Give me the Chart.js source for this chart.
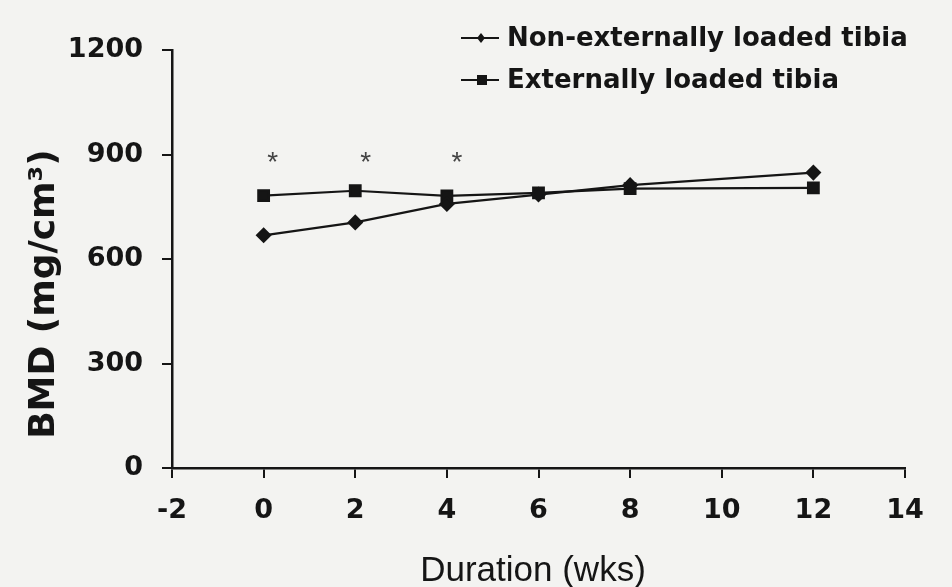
<!DOCTYPE html>
<html>
<head>
<meta charset="utf-8">
<script src="https://cdn.jsdelivr.net/npm/chart.js@4.4.0/dist/chart.umd.min.js"></script>
<style>
  html, body { margin: 0; padding: 0; background: #f3f3f1; }
  #wrap { width: 952px; height: 587px; }
</style>
</head>
<body>
<div id="wrap"><canvas id="chart" width="952" height="587"></canvas></div>
<script>
// data
const weeks = [0, 2, 4, 6, 8, 12];
const nonLoaded = [668, 705, 758, 785, 812, 848];
const loaded = [782, 796, 781, 790, 802, 804];
const starWeeks = [0.2, 2.23, 4.22];
const starLevel = 893;
const xTicks = [-2, 0, 2, 4, 6, 8, 10, 12, 14];
const yTicks = [0, 300, 600, 900, 1200];
const xTitle = "Duration (wks)";
const yTitle = "BMD (mg/cm³)";

const SANS = "'Liberation Sans', Arial, sans-serif";
const WIDE = "'DejaVu Sans', Verdana, sans-serif";
const INK = "#151515";

const toPts = (xs, ys) => xs.map((x, i) => ({ x, y: ys[i] }));

// background fill
const bgPlugin = {
  id: "bg",
  beforeDraw(chart) {
    const { ctx } = chart;
    ctx.save();
    ctx.fillStyle = "#f3f3f1";
    ctx.fillRect(0, 0, chart.width, chart.height);
    ctx.restore();
  },
};

// axis titles, significance marks and legend drawn by hand
const notesPlugin = {
  id: "notes",
  afterDraw(chart) {
    const { ctx, scales } = chart;
    ctx.save();

    // asterisks
    ctx.fillStyle = "#444";
    ctx.font = "28px " + SANS;
    ctx.textAlign = "center";
    ctx.textBaseline = "alphabetic";
    const m = ctx.measureText("*");
    const mid = (m.actualBoundingBoxAscent - m.actualBoundingBoxDescent) / 2;
    starWeeks.forEach((w) => {
      ctx.fillText("*", scales.x.getPixelForValue(w), scales.y.getPixelForValue(starLevel) + mid);
    });

    // x title
    ctx.fillStyle = INK;
    ctx.font = "35px " + SANS;
    ctx.textAlign = "center";
    ctx.fillText(xTitle, 533, 581);

    // y title
    ctx.save();
    ctx.translate(54, 294);
    ctx.rotate(-Math.PI / 2);
    ctx.font = "bold 36px " + WIDE;
    ctx.fillText(yTitle, 0, 0);
    ctx.restore();

    // legend
    const rows = [
      { y: 38, ds: chart.data.datasets[0] },
      { y: 80, ds: chart.data.datasets[1] },
    ];
    ctx.textAlign = "left";
    ctx.textBaseline = "middle";
    ctx.font = "bold 26px " + WIDE;
    rows.forEach((r) => {
      ctx.strokeStyle = INK;
      ctx.lineWidth = 2;
      ctx.beginPath();
      ctx.moveTo(461, r.y);
      ctx.lineTo(499, r.y);
      ctx.stroke();
      ctx.fillStyle = INK;
      if (r.ds.pointStyle === "rect") {
        ctx.fillRect(477, r.y - 5, 10, 10);
      } else {
        ctx.beginPath();
        ctx.moveTo(481, r.y - 5);
        ctx.lineTo(485, r.y);
        ctx.lineTo(481, r.y + 5);
        ctx.lineTo(477, r.y);
        ctx.closePath();
        ctx.fill();
      }
      ctx.fillText(r.ds.label, 507, r.y + 1);
    });
    ctx.restore();
  },
};

const tickFont = { family: WIDE, size: 27, weight: "bold" };

new Chart(document.getElementById("chart"), {
  type: "scatter",
  data: {
    datasets: [
      {
        label: "Non-externally loaded tibia",
        data: toPts(weeks, nonLoaded),
        showLine: true,
        borderColor: INK,
        backgroundColor: INK,
        borderWidth: 2.2,
        pointStyle: "rectRot",
        pointRadius: 6.5,
      },
      {
        label: "Externally loaded tibia",
        data: toPts(weeks, loaded),
        showLine: true,
        borderColor: INK,
        backgroundColor: INK,
        borderWidth: 2.2,
        pointStyle: "rect",
        pointRadius: 7.5,
      },
    ],
  },
  options: {
    responsive: false,
    animation: false,
    layout: { padding: { left: 0, top: 50, right: 47, bottom: 0 } },
    plugins: {
      legend: { display: false },
      tooltip: { enabled: false },
    },
    scales: {
      x: {
        type: "linear",
        min: -2,
        max: 14,
        afterBuildTicks: (s) => { s.ticks = xTicks.map((v) => ({ value: v })); },
        afterFit: (s) => { s.height = 119; },
        grid: { drawOnChartArea: false, drawTicks: true, tickLength: 10, color: INK, lineWidth: 2 },
        border: { color: INK, width: 2.5 },
        ticks: { color: INK, font: tickFont, padding: 17 },
      },
      y: {
        min: 0,
        max: 1200,
        afterBuildTicks: (s) => { s.ticks = yTicks.map((v) => ({ value: v })); },
        afterFit: (s) => { s.width = 172; },
        grid: { drawOnChartArea: false, drawTicks: true, tickLength: 10, color: INK, lineWidth: 2 },
        border: { color: INK, width: 2.5 },
        ticks: {
          color: INK,
          font: tickFont,
          padding: 19,
          callback: (v) => String(v),
        },
      },
    },
  },
  plugins: [bgPlugin, notesPlugin],
});
</script>
</body>
</html>
